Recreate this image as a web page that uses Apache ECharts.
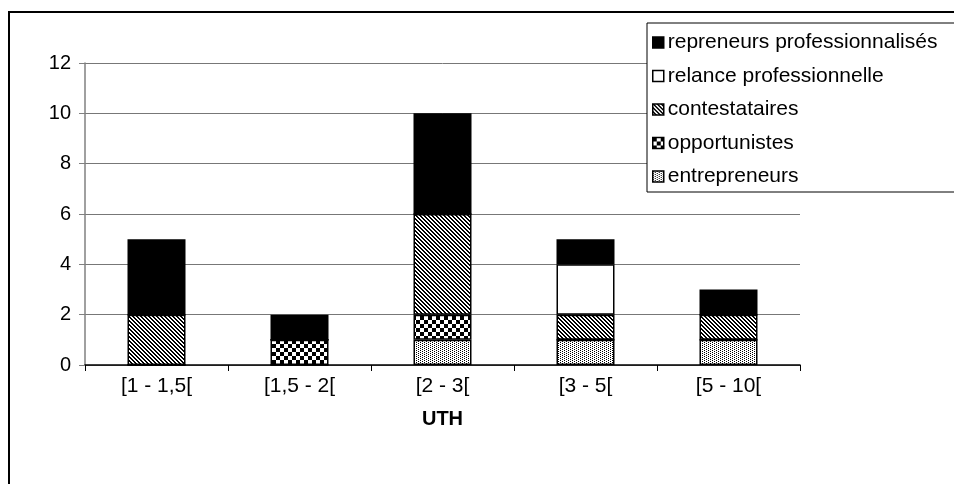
<!DOCTYPE html>
<html>
<head>
<meta charset="utf-8">
<script src="https://cdn.jsdelivr.net/npm/echarts@6/dist/echarts.min.js"></script>
<style>
html,body{margin:0;padding:0;background:#fff;}
#chart{width:954px;height:484px;}
</style>
</head>
<body>
<div id="chart"></div>
<script>
var categories = ['[1 - 1,5[', '[1,5 - 2[', '[2 - 3[', '[3 - 5[', '[5 - 10['];
var entrepreneurs = [0, 0, 1, 1, 1];
var opportunistes = [0, 1, 1, 0, 0];
var contestataires = [2, 0, 4, 1, 1];
var relance = [0, 0, 0, 2, 0];
var repreneurs = [3, 1, 4, 1, 1];
var yTicks = [0, 2, 4, 6, 8, 10, 12];

function makePattern(w, h, fn) {
  var c = document.createElement('canvas');
  c.width = w; c.height = h;
  var ctx = c.getContext('2d');
  ctx.fillStyle = '#fff';
  ctx.fillRect(0, 0, w, h);
  ctx.fillStyle = '#000';
  for (var x = 0; x < w; x++) for (var y = 0; y < h; y++) if (fn(x, y)) ctx.fillRect(x, y, 1, 1);
  return { image: c, repeat: 'repeat' };
}
var patDots = makePattern(4, 4, function (x, y) { return (x === 0 && y % 2 === 0) || (x === 2 && y % 2 === 1); });
var patChecker = makePattern(8, 8, function (x, y) { return ((Math.floor(x / 4) + Math.floor(y / 4)) % 2) === 0; });
var patDiag = makePattern(4, 4, function (x, y) { return ((x - y + 8) % 4) < 2; });

var chart = echarts.init(document.getElementById('chart'));
var font = 'Liberation Sans, Arial, sans-serif';
function barSeries(name, data, color) {
  return {
    name: name, type: 'bar', stack: 'total', data: data, barWidth: 58,
    itemStyle: { color: color, borderColor: '#000', borderWidth: 1.5 },
    emphasis: { disabled: true }
  };
}
chart.setOption({
  animation: false,
  backgroundColor: '#fff',
  grid: { left: 85, right: 154, top: 63, bottom: 119, containLabel: false },
  graphic: [{
    type: 'rect', shape: { x: 9, y: 12, width: 960, height: 490 },
    style: { fill: 'none', stroke: '#000', lineWidth: 2 }, z: -1
  }],
  legend: {
    orient: 'vertical', left: 647, top: 23,
    padding: [9, 30, 5, 5], itemGap: 12.5,
    backgroundColor: '#fff', borderColor: '#000', borderWidth: 1,
    itemWidth: 11, itemHeight: 11, icon: 'rect',
    textStyle: { fontFamily: font, fontSize: 21, color: '#000', lineHeight: 20, padding: [0, 0, 0, -1] },
    data: ['repreneurs professionnalisés', 'relance professionnelle', 'contestataires', 'opportunistes', 'entrepreneurs'],
    itemStyle: { borderColor: '#000', borderWidth: 1.5 }
  },
  xAxis: {
    type: 'category', data: categories,
    axisLine: { lineStyle: { color: '#000', width: 1.5 } },
    axisTick: { show: true, length: 6, lineStyle: { color: '#000' } },
    axisLabel: { fontFamily: font, fontSize: 21, color: '#000', margin: 11 },
    name: 'UTH', nameLocation: 'middle', nameGap: 44,
    nameTextStyle: { fontFamily: font, fontSize: 20, fontWeight: 'bold', color: '#000' }
  },
  yAxis: {
    type: 'value', min: yTicks[0], max: yTicks[yTicks.length - 1], interval: 2,
    axisLine: { show: true, lineStyle: { color: '#808080', width: 1.5 } },
    axisTick: { show: true, length: 6, lineStyle: { color: '#808080' } },
    axisLabel: { fontFamily: font, fontSize: 20, color: '#000', margin: 14 },
    splitLine: { lineStyle: { color: '#777', width: 1 } }
  },
  series: [
    barSeries('entrepreneurs', entrepreneurs, patDots),
    barSeries('opportunistes', opportunistes, patChecker),
    barSeries('contestataires', contestataires, patDiag),
    barSeries('relance professionnelle', relance, '#fff'),
    barSeries('repreneurs professionnalisés', repreneurs, '#000')
  ]
});
</script>
</body>
</html>
